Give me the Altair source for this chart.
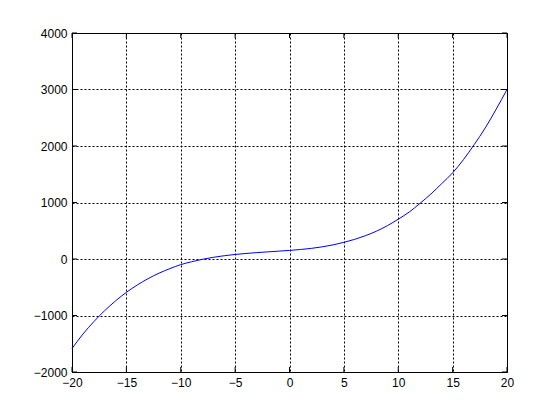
import altair as alt
import pandas as pd

x_vals = list(range(-20, 21))
y_vals = [-1585, -1330, -1110, -915, -742, -590, -460, -347, -251, -170,
          -100, -48, -5, 30, 58, 80, 98, 113, 126, 139,
          152, 168, 188, 215, 250, 295, 348, 414, 493, 590,
          705, 830, 985, 1150, 1335, 1525, 1760, 2030, 2320, 2650,
          3000]

x_ticks = [-20, -15, -10, -5, 0, 5, 10, 15, 20]
y_ticks = [-2000, -1000, 0, 1000, 2000, 3000, 4000]

W, H = 435, 339
TL = 5

df = pd.DataFrame({"x": x_vals, "y": y_vals})
dfx = pd.DataFrame({"x": x_ticks})
dfy = pd.DataFrame({"y": y_ticks})

x_axis = alt.Axis(values=x_ticks, title=None, grid=True, gridDash=[2, 2],
                  gridColor="black", gridOpacity=1, gridWidth=1, format="d",
                  tickSize=0, labelPadding=5, domainColor="black",
                  labelFont="Liberation Sans", labelFontSize=12,
                  labelColor="black", labelFlush=False)
y_axis = alt.Axis(values=y_ticks, title=None, grid=True, gridDash=[2, 2],
                  gridColor="black", gridOpacity=1, gridWidth=1, format="d",
                  tickSize=0, labelPadding=5, domainColor="black",
                  labelFont="Liberation Sans", labelFontSize=12,
                  labelColor="black", labelFlush=False)

xs = alt.Scale(domain=[-20, 20], nice=False, zero=False)
ys = alt.Scale(domain=[-2000, 4000], nice=False, zero=False)

line = alt.Chart(df).mark_line(color="#0000ff", strokeWidth=1, interpolate="monotone").encode(
    x=alt.X("x:Q", scale=xs, axis=x_axis),
    y=alt.Y("y:Q", scale=ys, axis=y_axis),
)

tick_bottom = alt.Chart(dfx).mark_rule(color="black", strokeWidth=1).encode(
    x=alt.X("x:Q", scale=xs, axis=x_axis), y=alt.value(H), y2=alt.value(H - TL))
tick_top = alt.Chart(dfx).mark_rule(color="black", strokeWidth=1).encode(
    x=alt.X("x:Q", scale=xs, axis=x_axis), y=alt.value(0), y2=alt.value(TL))
tick_left = alt.Chart(dfy).mark_rule(color="black", strokeWidth=1).encode(
    y=alt.Y("y:Q", scale=ys, axis=y_axis), x=alt.value(0), x2=alt.value(TL))
tick_right = alt.Chart(dfy).mark_rule(color="black", strokeWidth=1).encode(
    y=alt.Y("y:Q", scale=ys, axis=y_axis), x=alt.value(W), x2=alt.value(W - TL))

chart = alt.layer(tick_bottom, tick_top, tick_left, tick_right, line).properties(
    width=W, height=H,
    autosize=alt.AutoSizeParams(type="none"),
    padding={"left": 64, "top": 25, "right": 45, "bottom": 40},
    background="white",
).configure_view(stroke="black", strokeWidth=1)

chart.save("out.html", embed_options={"renderer": "svg", "actions": False})
